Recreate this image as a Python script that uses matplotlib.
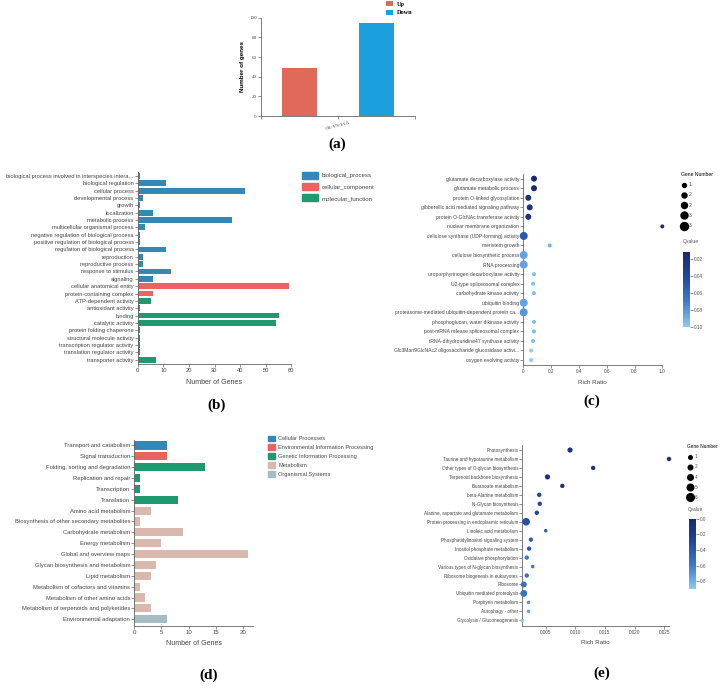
import numpy as np
import matplotlib
matplotlib.use("Agg")
import matplotlib.pyplot as plt
from matplotlib.patches import Patch
from matplotlib.lines import Line2D
from matplotlib.colors import LinearSegmentedColormap, Normalize
from matplotlib.cm import ScalarMappable

plt.rcParams['font.family'] = ['Liberation Sans', 'DejaVu Sans']

W, H = 721, 688

# ---------- (a) DEG counts ----------
groups_a = ["CK-VS-IAA"]
up_counts = [49]
down_counts = [95]

# ---------- (b) GO classification ----------
go_terms = [
    "biological process involved in interspecies intera...",
    "biological regulation", "cellular process", "developmental process",
    "growth", "localization", "metabolic process",
    "multicellular organismal process",
    "negative regulation of biological process",
    "positive regulation of biological process",
    "regulation of biological process", "reproduction",
    "reproductive process", "response to stimulus", "signaling",
    "cellular anatomical entity", "protein-containing complex",
    "ATP-dependent activity", "antioxidant activity", "binding",
    "catalytic activity", "protein folding chaperone",
    "structural molecule activity", "transcription regulator activity",
    "translation regulator activity", "transporter activity",
]
go_counts = [1, 11, 42, 2, 1, 6, 37, 3, 1, 1, 11, 2, 2, 13, 6,
             59, 6,
             5, 1, 55, 54, 1, 1, 1, 1, 7]
go_types = (["biological_process"] * 15 + ["cellular_component"] * 2
            + ["molecular_function"] * 9)

# ---------- (c) GO enrichment ----------
goe_terms = [
    "glutamate decarboxylase activity", "glutamate metabolic process",
    "protein O-linked glycosylation",
    "gibberellic acid mediated signaling pathway",
    "protein O-GlcNAc transferase activity", "nuclear membrane organization",
    "cellulose synthase (UDP-forming) activity", "meristem growth",
    "cellulose biosynthetic process", "RNA processing",
    "uroporphyrinogen decarboxylase activity", "U2-type spliceosomal complex",
    "carbohydrate kinase activity", "ubiquitin binding",
    "proteasome-mediated ubiquitin-dependent protein ca...",
    "phosphoglucan, water dikinase activity",
    "post-mRNA release spliceosomal complex",
    "tRNA-dihydrouridine47 synthase activity",
    "Glc3Man9GlcNAc2 oligosaccharide glucosidase activi...",
    "oxygen evolving activity",
]
goe_ratio = [0.077, 0.077, 0.036, 0.046, 0.036, 1.0, 0.003, 0.19, 0.003,
             0.003, 0.077, 0.07, 0.077, 0.003, 0.003, 0.077, 0.077, 0.07,
             0.056, 0.056]
goe_genes = [2, 2, 2, 2, 2, 1, 3, 1, 3, 3, 1, 1, 1, 3, 3, 1, 1, 1, 1, 1]
goe_q = [0.011, 0.011, 0.02, 0.02, 0.02, 0.015, 0.05, 0.09, 0.085, 0.085,
         0.095, 0.095, 0.095, 0.085, 0.08, 0.095, 0.095, 0.095, 0.1, 0.1]

# ---------- (d) KEGG classification ----------
kegg_terms = [
    "Transport and catabolism", "Signal transduction",
    "Folding, sorting and degradation", "Replication and repair",
    "Transcription", "Translation", "Amino acid metabolism",
    "Biosynthesis of other secondary metabolites", "Carbohydrate metabolism",
    "Energy metabolism", "Global and overview maps",
    "Glycan biosynthesis and metabolism", "Lipid metabolism",
    "Metabolism of cofactors and vitamins", "Metabolism of other amino acids",
    "Metabolism of terpenoids and polyketides", "Environmental adaptation",
]
kegg_counts = [6, 6, 13, 1, 1, 8, 3, 1, 9, 5, 21, 4, 3, 1, 2, 3, 6]
kegg_types = (["Cellular Processes", "Environmental Information Processing"]
              + ["Genetic Information Processing"] * 4 + ["Metabolism"] * 10
              + ["Organismal Systems"])

# ---------- (e) KEGG enrichment ----------
ke_terms = [
    "Photosynthesis", "Taurine and hypotaurine metabolism",
    "Other types of O-glycan biosynthesis", "Terpenoid backbone biosynthesis",
    "Butanoate metabolism", "beta-Alanine metabolism", "N-Glycan biosynthesis",
    "Alanine, aspartate and glutamate metabolism",
    "Protein processing in endoplasmic reticulum", "Linoleic acid metabolism",
    "Phosphatidylinositol signaling system", "Inositol phosphate metabolism",
    "Oxidative phosphorylation", "Various types of N-glycan biosynthesis",
    "Ribosome biogenesis in eukaryotes", "Ribosome",
    "Ubiquitin mediated proteolysis", "Porphyrin metabolism",
    "Autophagy - other", "Glycolysis / Gluconeogenesis",
]
ke_ratio = [0.0091, 0.0258, 0.0130, 0.0053, 0.0078, 0.0039, 0.0040, 0.0035,
            0.0017, 0.0050, 0.0025, 0.0022, 0.0018, 0.0028, 0.0018, 0.0013,
            0.0013, 0.0021, 0.0021, 0.00105]
ke_genes = [3, 2, 2, 3, 2, 2, 2, 2, 6, 1, 2, 2, 2, 1, 2, 4, 5, 1, 1, 1]
ke_q = [0.1, 0.1, 0.1, 0.1, 0.1, 0.3, 0.3, 0.3, 0.35, 0.45, 0.45, 0.4, 0.6,
        0.6, 0.55, 0.55, 0.55, 0.7, 0.75, 0.9]

GO_COLORS = {"biological_process": "#3389b6", "cellular_component": "#ea6361",
             "molecular_function": "#1f9a70"}
KEGG_COLORS = {"Cellular Processes": "#3389b6",
               "Environmental Information Processing": "#ea6361",
               "Genetic Information Processing": "#1f9a70",
               "Metabolism": "#d9b9ae", "Organismal Systems": "#a6bdc6"}
qcmap = LinearSegmentedColormap.from_list(
    "q", ["#1a2a69", "#22469e", "#3d7ccc", "#8ccbf2"])


def rect(l, t, r, b):
    return [l / W, 1 - b / H, (r - l) / W, (b - t) / H]


def style_axes(ax, fs):
    for s in ["top", "right"]:
        ax.spines[s].set_visible(False)
    for s in ["left", "bottom"]:
        ax.spines[s].set_color("#666666")
        ax.spines[s].set_linewidth(0.6)
    ax.tick_params(length=2, width=0.5, color="#666666", labelcolor="#444444",
                   labelsize=fs, pad=1)


def px_diam(d):
    return (d * 72 / 100) ** 2


fig = plt.figure(figsize=(W / 100, H / 100), dpi=100)

# ---- (a) ----
ax = fig.add_axes(rect(261, 17.7, 415, 116))
xa = np.arange(len(groups_a))
ax.bar(xa - 0.25, up_counts, width=0.227, color="#e06a5a", label="Up")
ax.bar(xa + 0.25, down_counts, width=0.227, color="#1ca0dd", label="Down")
ax.set_xlim(-0.5, 0.5)
ax.set_ylim(0, 100)
ax.set_yticks(range(0, 101, 20))
ax.set_xticks([-0.5, 0, 0.5])
ax.set_xticklabels(["", groups_a[0], ""], rotation=15, ha="center",
                   family="Liberation Serif", fontsize=5, color="#888888")
style_axes(ax, 3.6)
for lab in ax.get_yticklabels():
    lab.set_family("Liberation Serif")
ax.set_ylabel("Number of genes", fontsize=4.5, fontweight="bold", labelpad=3)
ax.legend(loc="upper left", bbox_to_anchor=(386 / W, 1 - 1 / H),
          bbox_transform=fig.transFigure, frameon=False,
          prop={"family": "Liberation Serif", "weight": "bold", "size": 4.5},
          handlelength=1.1, handleheight=0.9, labelspacing=0.45,
          handletextpad=0.6, borderpad=0, borderaxespad=0)

# ---- (b) ----
ax = fig.add_axes(rect(137.7, 172, 291.3, 364))
yb = np.arange(len(go_terms))
ax.barh(yb, go_counts, height=0.8, color=[GO_COLORS[t] for t in go_types])
ax.set_ylim(len(go_terms) - 0.4, -0.55)
ax.set_xlim(0, 60)
ax.set_xticks(range(0, 61, 10))
ax.set_yticks(yb)
ax.set_yticklabels(go_terms)
style_axes(ax, 4.15)
ax.set_xlabel("Number of Genes", fontsize=5, color="#444444", labelpad=4)
ax.legend(handles=[Patch(color=c) for c in GO_COLORS.values()],
          labels=list(GO_COLORS.keys()), loc="upper left",
          bbox_to_anchor=(302 / W, 1 - 172 / H), bbox_transform=fig.transFigure,
          frameon=False, fontsize=4.4, handlelength=2.6, handleheight=1.3,
          labelspacing=0.75, handletextpad=0.6, borderpad=0, borderaxespad=0,
          labelcolor="#444444")

# ---- (c) ----
ax = fig.add_axes(rect(523.3, 174, 662.3, 365))
yc = np.arange(len(goe_terms))
qn_c = Normalize(vmin=0.011, vmax=0.10)
ax.scatter(goe_ratio, yc, s=[px_diam(2 + 2 * g) for g in goe_genes],
           c=goe_q, cmap=qcmap, norm=qn_c, edgecolors="none", clip_on=False,
           zorder=3)
ax.set_xlim(0, 1.0)
ax.set_ylim(len(goe_terms) - 0.48, -0.49)
ax.set_xticks([0, 0.2, 0.4, 0.6, 0.8, 1.0])
ax.set_xticklabels(["0", "0.2", "0.4", "0.6", "0.8", "1.0"])
ax.set_yticks(yc)
ax.set_yticklabels(goe_terms)
style_axes(ax, 3.6)
ax.tick_params(axis="x", labelsize=3.4)
ax.set_xlabel("Rich Ratio", fontsize=4.5, color="#444444", labelpad=4)
leg_n = [1, 1.5, 2, 2.5, 3]
ax.legend(handles=[Line2D([], [], ls="", marker="o", color="black",
                          markersize=(2 + 2 * n) * 0.72) for n in leg_n],
          labels=[str(int(round(n + 0.01))) for n in leg_n],
          title="Gene Number", title_fontsize=3.6, loc="upper left",
          bbox_to_anchor=(681 / W, 1 - 172 / H), bbox_transform=fig.transFigure,
          frameon=False, fontsize=3.6, labelspacing=1.05, handletextpad=0.4,
          borderpad=0, borderaxespad=0, labelcolor="#555555",
          alignment="left", handlelength=1.2)
fig.text(683 / W, 1 - 241.7 / H, "Qvalue", fontsize=3.6, color="#555555",
         va="center")
cax = fig.add_axes(rect(683, 251.7, 690, 326.7))
cb = fig.colorbar(ScalarMappable(norm=qn_c, cmap=qcmap), cax=cax,
                  ticks=[0.02, 0.04, 0.06, 0.08, 0.10])
cb.ax.set_yticklabels(["0.02", "0.04", "0.06", "0.08", "0.10"])
cb.ax.invert_yaxis()
cb.outline.set_visible(False)
cb.ax.tick_params(labelsize=3.4, length=2, width=0.5, color="#666666",
                  labelcolor="#555555", pad=1)

# ---- (d) ----
ax = fig.add_axes(rect(134.3, 440, 253, 625.7))
yd = np.arange(len(kegg_terms))
ax.barh(yd, kegg_counts, height=0.75,
        color=[KEGG_COLORS[t] for t in kegg_types])
ax.set_xlim(0, 21.9)
ax.set_ylim(len(kegg_terms) - 0.41, -0.5)
ax.set_xticks(range(0, 21, 5))
ax.set_yticks(yd)
ax.set_yticklabels(kegg_terms)
style_axes(ax, 4.2)
ax.tick_params(axis="x", labelsize=4.4)
ax.set_xlabel("Number of Genes", fontsize=5, color="#444444", labelpad=4)
ax.legend(handles=[Patch(color=c) for c in KEGG_COLORS.values()],
          labels=list(KEGG_COLORS.keys()), loc="upper left",
          bbox_to_anchor=(267.5 / W, 1 - 435.5 / H),
          bbox_transform=fig.transFigure, frameon=False, fontsize=4.1,
          handlelength=1.3, handleheight=1.2, labelspacing=0.55,
          handletextpad=0.6, borderpad=0, borderaxespad=0,
          labelcolor="#444444")

# ---- (e) ----
ax = fig.add_axes(rect(522.3, 445, 669, 625.7))
ye = np.arange(len(ke_terms))
qn_e = Normalize(vmin=0.0, vmax=0.9)
ax.scatter(ke_ratio, ye, s=[px_diam(2.8 + 0.8 * g) for g in ke_genes],
           c=ke_q, cmap=qcmap, norm=qn_e, edgecolors="none", clip_on=False,
           zorder=3)
ax.set_xlim(min(ke_ratio), max(ke_ratio))
ax.set_ylim(len(ke_terms) - 0.4, -0.56)
ax.set_xticks([0.005, 0.010, 0.015, 0.020, 0.025])
ax.set_xticklabels(["0.005", "0.010", "0.015", "0.020", "0.025"])
ax.set_yticks(ye)
ax.set_yticklabels(ke_terms)
style_axes(ax, 3.3)
ax.set_xlabel("Rich Ratio", fontsize=4.5, color="#444444", labelpad=4)
leg_e = [1, 2.25, 3.5, 4.75, 6]
ax.legend(handles=[Line2D([], [], ls="", marker="o", color="black",
                          markersize=(2.8 + 0.8 * n) * 0.72) for n in leg_e],
          labels=[str(int(n + 0.5)) for n in leg_e],
          title="Gene Number", title_fontsize=3.4, loc="upper left",
          bbox_to_anchor=(687 / W, 1 - 444 / H), bbox_transform=fig.transFigure,
          frameon=False, fontsize=3.4, labelspacing=1.1, handletextpad=0.5,
          borderpad=0, borderaxespad=0, labelcolor="#555555",
          alignment="left", handlelength=1.2)
fig.text(688 / W, 1 - 509.3 / H, "Qvalue", fontsize=3.4, color="#555555",
         va="center")
cax = fig.add_axes(rect(688.7, 518.7, 696, 589))
cb = fig.colorbar(ScalarMappable(norm=qn_e, cmap=qcmap), cax=cax,
                  ticks=[0.0, 0.2, 0.4, 0.6, 0.8])
cb.ax.set_yticklabels(["0.0", "0.2", "0.4", "0.6", "0.8"])
cb.ax.invert_yaxis()
cb.outline.set_visible(False)
cb.ax.tick_params(labelsize=3.4, length=2, width=0.5, color="#666666",
                  labelcolor="#555555", pad=1)

# panel letters
for lab, x, y in [("(a)", 337, 144), ("(b)", 217, 405), ("(c)", 592, 401),
                  ("(d)", 209, 675), ("(e)", 602, 673)]:
    fig.text(x / W, 1 - y / H, lab, family="Liberation Serif",
             fontweight="bold", fontsize=11, ha="center", va="center")

fig.savefig("out.png", dpi=100)
